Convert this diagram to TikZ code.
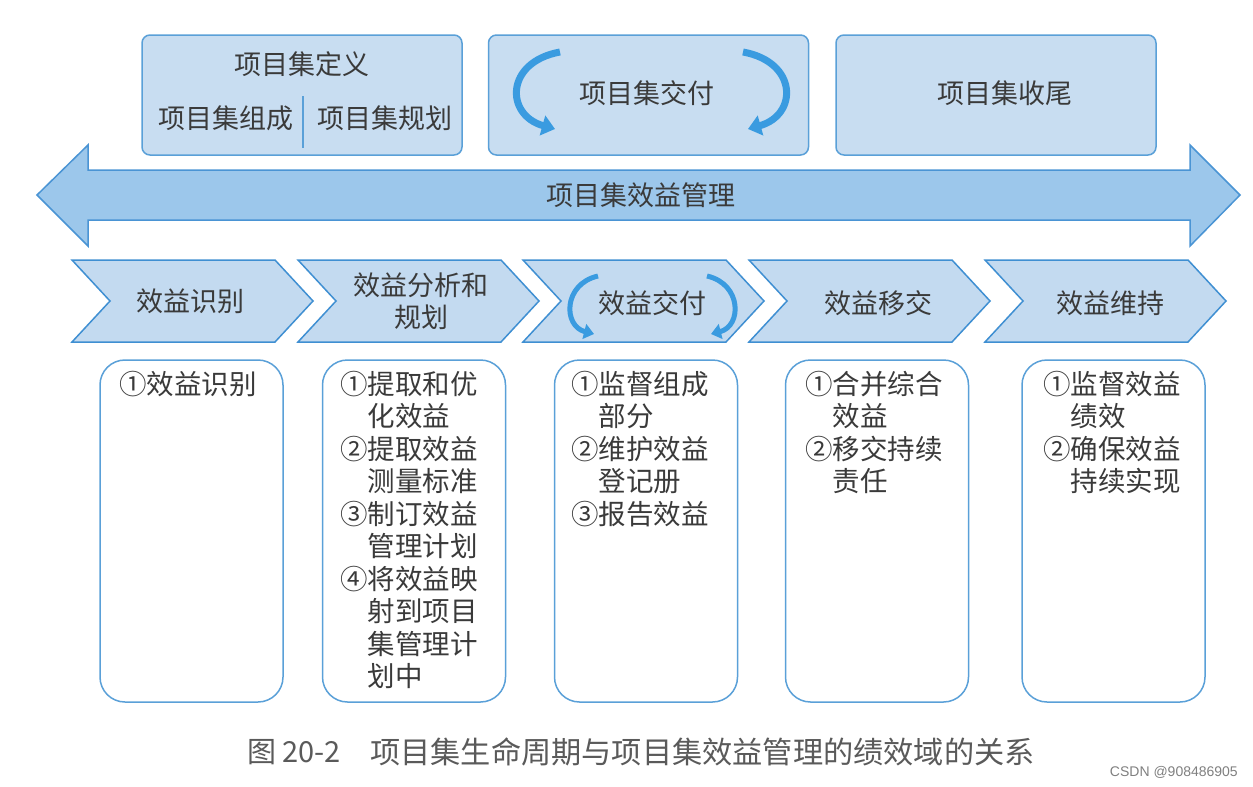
\documentclass[tikz,border=0pt]{standalone}
\usepackage{fontspec}
\setmainfont{Noto Sans CJK SC}
\newfontfamily\wmfont{Liberation Sans}
\usetikzlibrary{arrows.meta}
\definecolor{boxfill}{HTML}{C8DDF1}
\definecolor{boxline}{HTML}{5AA0D8}
\definecolor{bandfill}{HTML}{9CC7EB}
\definecolor{bandline}{HTML}{4A94D4}
\definecolor{chevfill}{HTML}{C3DAF0}
\definecolor{chevline}{HTML}{3F8FD2}
\definecolor{txt}{HTML}{3A3A3A}
\definecolor{curarrow}{HTML}{3A9BE0}
\definecolor{captxt}{HTML}{5A5A5A}
\begin{document}
\begin{tikzpicture}[x=1pt,y=-1pt,
  topbox/.style={draw=boxline,fill=boxfill,rounded corners=8pt,line width=1.5pt,minimum width=320pt,minimum height=120pt,inner sep=0pt},
  lbl/.style={text=txt,font=\fontsize{27}{32}\selectfont,inner sep=0pt,align=center},
  chev/.style={draw=chevline,fill=chevfill,line width=1.5pt,line join=miter},
  listbox/.style={draw=boxline,fill=white,rounded corners=25pt,line width=1.5pt,minimum width=183pt,minimum height=342pt,inner sep=0pt},
  listtxt/.style={text=txt,font=\fontsize{27.5}{32.5}\selectfont,inner sep=0pt,align=left,anchor=north west},
  curv/.style={draw=curarrow,line width=7pt,-{Triangle[length=13pt,width=20pt]}},
  curvs/.style={draw=curarrow,line width=5pt,-{Triangle[length=10pt,width=15pt]}}
]
\useasboundingbox (0,0) rectangle (1253,787);
\fill[white] (0,0) rectangle (1253,787);

% top boxes
\node[topbox] (tb1) at (302,95) {};
\node[topbox] (tb2) at (648.5,95) {};
\node[topbox] (tb3) at (996,95) {};
\node[lbl] (tb1t) at (302,64) {项目集定义};
\node[lbl] (tb1a) at (226,118) {项目集组成};
\node[lbl] (tb1b) at (385,118) {项目集规划};
\coordinate (divT) at (303,96);
\coordinate (divB) at (303,148);
\draw[boxline,line width=2pt] (divT) -- (divB);
\node[lbl] (tb2t) at (647,93) {项目集交付};
\node[lbl] (tb3t) at (1005,93) {项目集收尾};
\draw[curv] (560,52) .. controls (505,62) and (505,115) .. (555,129);
\draw[curv] (743,52) .. controls (798,62) and (798,115) .. (748,129);

% band arrow
\draw[draw=bandline,fill=bandfill,line width=1.5pt,line join=miter]
  (37,195) -- (88,145) -- (88,170) -- (1190,170) -- (1190,145) -- (1240,195)
  -- (1190,246) -- (1190,220) -- (88,220) -- (88,246) -- cycle;
\node[lbl] (band) at (641,195) {项目集效益管理};

% chevrons
\foreach \x in {72,298,523,749,985}{
  \draw[chev] (\x,260) -- ++(203,0) -- ++(38,41) -- ++(-38,41) -- ++(-203,0) -- ++(38,-41) -- cycle;
}
\node[lbl] (c1) at (190,301) {效益识别};
\node[lbl] (c2) at (421,301) {效益分析和\\规划};
\node[lbl] (c3) at (652,303) {效益交付};
\node[lbl] (c4) at (878,303) {效益移交};
\node[lbl] (c5) at (1110,303) {效益维持};
\draw[curvs] (598,276) .. controls (563,284) and (563,326) .. (594,334);
\draw[curvs] (707,276) .. controls (742,284) and (742,326) .. (711,334);

% list boxes
\node[listbox] (b1) at (191.5,531) {};
\node[listbox] (b2) at (414,531) {};
\node[listbox] (b3) at (646,531) {};
\node[listbox] (b4) at (877,531) {};
\node[listbox] (b5) at (1113.5,531) {};
\node[listtxt] (t1) at (119,371) {①效益识别};
\node[listtxt] (t2) at (340,371) {①提取和优\\\hspace*{1em}化效益\\②提取效益\\\hspace*{1em}测量标准\\③制订效益\\\hspace*{1em}管理计划\\④将效益映\\\hspace*{1em}射到项目\\\hspace*{1em}集管理计\\\hspace*{1em}划中};
\node[listtxt] (t3) at (571,371) {①监督组成\\\hspace*{1em}部分\\②维护效益\\\hspace*{1em}登记册\\③报告效益};
\node[listtxt] (t4) at (805,371) {①合并综合\\\hspace*{1em}效益\\②移交持续\\\hspace*{1em}责任};
\node[listtxt] (t5) at (1043,371) {①监督效益\\\hspace*{1em}绩效\\②确保效益\\\hspace*{1em}持续实现};

% caption
\node[text=captxt,font=\fontsize{29}{34}\selectfont,inner sep=0pt,anchor=west] (capa) at (247,752) {图 20-2};
\node[text=captxt,font=\fontsize{30.2}{34}\selectfont,inner sep=0pt,anchor=west] (capb) at (370,752) {项目集生命周期与项目集效益管理的绩效域的关系};
\node[text=gray,font=\wmfont\fontsize{14}{16}\selectfont,inner sep=0pt,anchor=east] (wm) at (1238,772) {CSDN @908486905};
\end{tikzpicture}
\end{document}
